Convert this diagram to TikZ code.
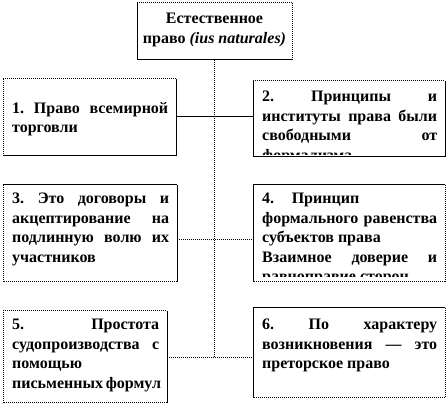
\documentclass[tikz,border=0pt]{standalone}
\usepackage{fontspec}
\setmainfont{Liberation Serif}
\newcommand{\J}[2]{\hbox to #1pt{#2}}
\newcommand{\boxsides}[5]{%
  \draw[#2] (#1.north west) -- (#1.north east);
  \draw[#3] (#1.north east) -- (#1.south east);
  \draw[#4] (#1.south east) -- (#1.south west);
  \draw[#5] (#1.south west) -- (#1.north west);}
\begin{document}
\begin{tikzpicture}[x=1pt,y=1pt,
  sl/.style={line width=1pt, black},
  dl/.style={line width=1pt, black, dash pattern=on 1pt off 1pt},
  boxshape/.style={draw=none, inner sep=0pt, outer sep=0pt, anchor=north west},
  txt/.style={inner sep=0pt, anchor=north west, align=left, font=\fontsize{16}{19.5}\selectfont\bfseries},
]
\useasboundingbox (0,0) rectangle (448,-409);
\fill[white] (0,0) rectangle (448,-409);

% boxes
\node[boxshape, minimum width=155pt, minimum height=57pt] (top) at (137,-3) {};
\node[boxshape, minimum width=173pt, minimum height=77pt] (b1) at (3,-79) {};
\node[boxshape, minimum width=192pt, minimum height=76pt] (b2) at (253,-81) {};
\node[boxshape, minimum width=174pt, minimum height=97pt] (b3) at (3,-185) {};
\node[boxshape, minimum width=192pt, minimum height=97pt] (b4) at (253,-185) {};
\node[boxshape, minimum width=164pt, minimum height=92pt] (b5) at (3,-311) {};
\node[boxshape, minimum width=192pt, minimum height=90pt] (b6) at (253,-308) {};

\coordinate (c1) at (0,-117);
\coordinate (c2) at (0,-240);
\coordinate (c3) at (0,-358);

% connectors
\draw[dl] (top.south) -- (top.south |- c3);
\draw[sl] (b1.east |- c1) -- (b2.west |- c1);
\draw[dl] (b3.east |- c2) -- (b4.west |- c2);
\draw[dl] (b5.east |- c3) -- (b6.west |- c3);

% texts
\node[align=center, inner sep=0pt, font=\fontsize{16}{20.5}\selectfont\bfseries] (ttop) at (214.5,-30)
  {Естественное\\право \textit{(ius naturales)}};

\node[txt] (t1) at (12,-102) {\J{156}{1.\hfill Право\hfill всемирной}\\\J{156}{торговли\hfill}};

\begin{scope}
\clip (b2.north west) rectangle ([yshift=2.5pt]b2.south east);
\node[txt] (t2) at (262,-91) {\J{175}{2.\hfill Принципы\hfill и}\\
  \J{175}{институты\hfill права\hfill были}\\
  \J{175}{свободными\hfill от}\\
  \J{175}{формализма\hfill}};
\end{scope}

\node[txt] (t3) at (12,-193) {\J{157}{3.\hfill Это\hfill договоры\hfill и}\\
  \J{157}{акцептирование\hfill на}\\
  \J{157}{подлинную\hfill волю\hfill их}\\
  \J{157}{участников\hfill}};

\begin{scope}
\clip (b4.north west) rectangle ([yshift=5pt]b4.south east);
\node[txt] (t4) at (262,-193) {\J{175}{4.\hspace{1.1em}Принцип\hfill}\\
  \J{175}{формального\hfill равенства}\\
  \J{175}{субъектов права\hfill}\\
  \J{175}{Взаимное\hfill доверие\hfill и}\\
  \J{175}{равноправие сторон\hfill}};
\end{scope}

\node[txt] (t5) at (12,-319) {\J{147}{5.\hfill Простота}\\
  \J{147}{судопроизводства\hfill с}\\
  \J{147}{помощью\hfill}\\
  \J{147}{письменных формул\hfill}};

\node[txt] (t6) at (262,-319) {\J{175}{6.\hfill По\hfill характеру}\\
  \J{175}{возникновения\hfill —\hfill это}\\
  \J{175}{преторское право\hfill}};

% box borders
\boxsides{top}{dl}{dl}{sl}{sl}
\boxsides{b1}{dl}{sl}{sl}{dl}
\boxsides{b2}{dl}{sl}{sl}{sl}
\boxsides{b3}{sl}{sl}{dl}{dl}
\boxsides{b4}{sl}{dl}{dl}{sl}
\boxsides{b5}{dl}{sl}{dl}{dl}
\boxsides{b6}{sl}{dl}{dl}{sl}
\end{tikzpicture}
\end{document}
